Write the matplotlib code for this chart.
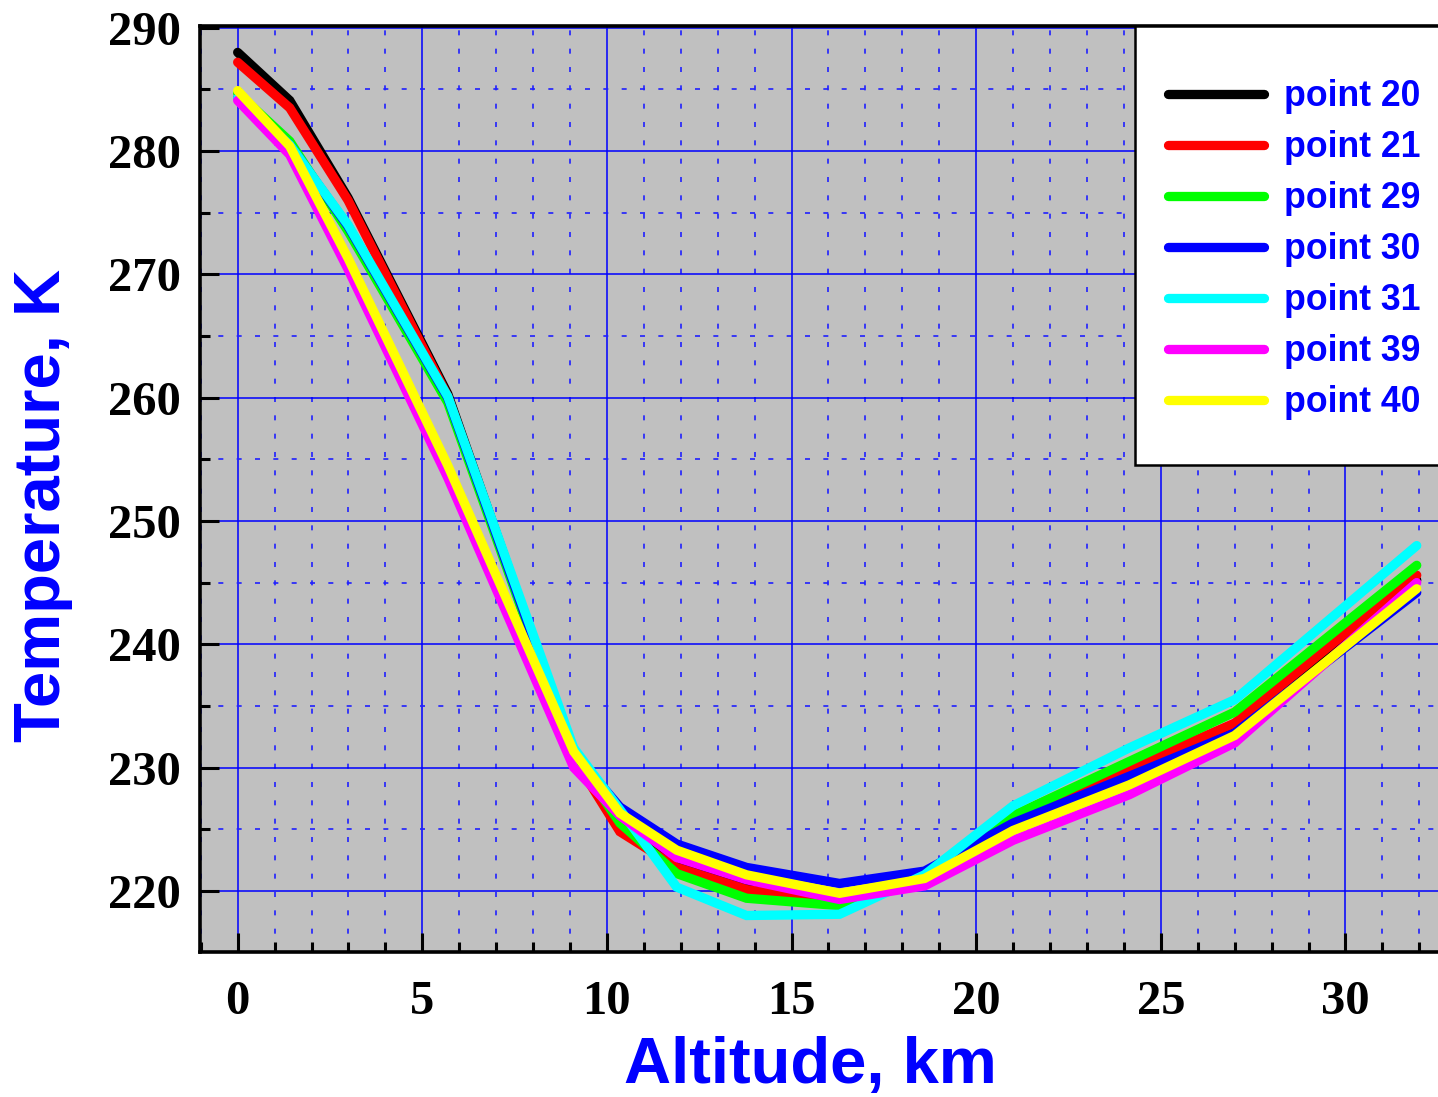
import matplotlib
matplotlib.use('Agg')
import matplotlib.pyplot as plt
from matplotlib.ticker import MultipleLocator
from matplotlib.patches import Rectangle

# ---------------- data ----------------
altitude_km = [0.0, 1.41, 2.99, 5.69, 9.1, 10.35, 11.89, 13.78, 16.3, 18.6, 21.0, 24.15, 27.0, 31.93]

series_names = ["point 20", "point 21", "point 29", "point 30", "point 31", "point 39", "point 40"]
series_colors = ["#000000", "#FF0000", "#00FF00", "#0000FF", "#00FFFF", "#FF00FF", "#FFFF00"]

t_point20 = [288.0, 284.1, 276.2, 260.3, 231.0, 225.2, 222.2, 220.5, 219.2, 221.2, 225.6, 229.5, 233.2, 245.2]
t_point21 = [287.2, 283.5, 276.0, 260.1, 230.8, 224.8, 221.9, 220.1, 219.1, 221.1, 225.8, 229.9, 233.6, 245.6]
t_point29 = [284.7, 280.8, 273.5, 259.6, 231.0, 225.5, 221.4, 219.4, 218.8, 221.2, 226.1, 230.5, 234.5, 246.4]
t_point30 = [284.3, 280.5, 273.9, 260.0, 231.2, 226.8, 223.8, 221.9, 220.6, 221.6, 225.5, 229.3, 232.8, 244.2]
t_point31 = [284.3, 280.5, 274.0, 260.1, 231.6, 226.6, 220.3, 218.0, 218.1, 221.3, 226.9, 231.6, 235.5, 248.0]
t_point39 = [284.1, 279.7, 270.4, 253.5, 230.0, 226.1, 222.7, 220.9, 219.3, 220.4, 224.1, 227.8, 232.0, 245.0]
t_point40 = [284.9, 280.4, 271.3, 254.5, 231.3, 226.3, 223.3, 221.3, 219.8, 221.0, 224.9, 228.6, 232.6, 244.5]

series_values = [t_point20, t_point21, t_point29, t_point30, t_point31, t_point39, t_point40]

x_ticks = [0, 5, 10, 15, 20, 25, 30]
y_ticks = [220, 230, 240, 250, 260, 270, 280, 290]

# ---------------- figure ----------------
W, H = 1438, 1097
fig = plt.figure(figsize=(W / 100, H / 100), dpi=100)
fig.patch.set_facecolor('white')


def fx(px):
    return px / W


def fy(py):
    return 1 - py / H


ax = fig.add_axes([fx(200), fy(952), fx(1440) - fx(200), fy(26) - fy(952)])
ax.set_facecolor('#C0C0C0')

ax.set_xlim(-1.02, 32.56)
ax.set_ylim(215.04, 290.14)

# grid
ax.xaxis.set_major_locator(MultipleLocator(5))
ax.xaxis.set_minor_locator(MultipleLocator(1))
ax.yaxis.set_major_locator(MultipleLocator(10))
ax.yaxis.set_minor_locator(MultipleLocator(5))
ax.set_xticks(x_ticks)
ax.set_yticks(y_ticks)
ax.grid(which='major', color='#0000FF', linewidth=1.1, linestyle='-', zorder=0)
ax.grid(which='minor', color='#2020FF', linewidth=1.2, linestyle=(0, (3, 8)), zorder=0)
ax.set_axisbelow(True)

for vals, name, col in zip(series_values, series_names, series_colors):
    ax.plot(altitude_km, vals, color=col, linewidth=6.7, label=name,
            solid_capstyle='round', solid_joinstyle='miter', zorder=3)

# spines
for side in ['left', 'bottom', 'top']:
    ax.spines[side].set_linewidth(2.6)
    ax.spines[side].set_color('black')
ax.spines['right'].set_visible(False)

# ticks
ax.tick_params(which='major', direction='in', length=14, width=2.2, color='black',
               top=False, right=False)
ax.tick_params(which='minor', direction='in', length=7.5, width=2.2, color='black',
               top=False, right=False)
ax.tick_params(axis='x', which='major', pad=20)
ax.tick_params(axis='y', which='major', pad=14)
for lab in ax.get_xticklabels() + ax.get_yticklabels():
    lab.set_fontfamily('Liberation Serif')
    lab.set_fontweight('bold')
    lab.set_fontsize(35)

# axis labels
fig.text(fx(810), fy(1066), 'Altitude, km', color='#0000FF', fontsize=47,
         fontweight='bold', fontfamily='Liberation Sans', ha='center', va='center')
fig.text(fx(43), fy(505), 'Temperature, K', color='#0000FF', fontsize=47,
         fontweight='bold', fontfamily='Liberation Sans', ha='center', va='center',
         rotation=90)

# legend box
rect = Rectangle((fx(1135), fy(465)), fx(1460) - fx(1135), fy(26) - fy(465),
                 transform=fig.transFigure, facecolor='white', edgecolor='black',
                 linewidth=1.8, zorder=5)
fig.patches.append(rect)

leg = fig.legend(loc='upper left', bbox_to_anchor=(fx(1168), fy(79)),
                 bbox_transform=fig.transFigure, frameon=False,
                 prop={'family': 'Liberation Sans', 'weight': 'bold', 'size': 25.7},
                 handlelength=2.7, handletextpad=0.56, labelspacing=0.45,
                 borderpad=0, borderaxespad=0)
leg.set_zorder(6)
for t in leg.get_texts():
    t.set_color('#0000FF')
for h in leg.legend_handles:
    h.set_linewidth(6.7)
    h.set_solid_capstyle('round')

fig.savefig('out.png', dpi=100)
